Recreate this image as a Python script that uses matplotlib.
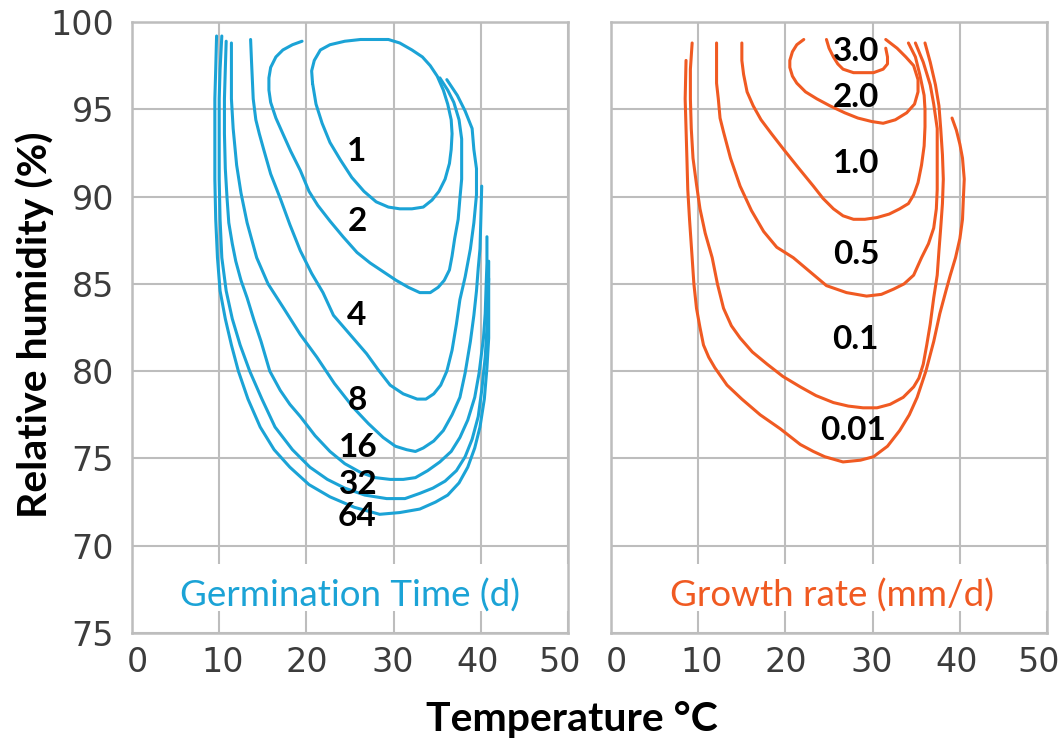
import matplotlib
matplotlib.use("Agg")
import matplotlib.pyplot as plt
from matplotlib.transforms import ScaledTranslation

# --- germination time contours (days), left panel: temperature (C) vs RH (%) ---
germ_1_t = [20.7, 20.6, 20.9, 21.6, 22.7, 24.4, 26.2, 27.9, 29.4, 30.7, 32.1, 33.3,
            34.2, 35.0, 35.7, 36.2, 36.6, 36.7, 36.6, 36.4, 35.9, 35.2, 34.4, 33.4,
            32.1, 30.7, 29.4, 28.0, 26.6, 25.2, 23.9, 22.7, 21.8, 21.1, 20.7]
germ_1_rh = [96.5, 97.2, 97.8, 98.4, 98.7, 98.9, 99.0, 99.0, 99.0, 98.8, 98.4, 98.0,
             97.5, 96.9, 96.1, 95.3, 94.4, 93.6, 92.7, 91.9, 91.0, 90.3, 89.8, 89.4,
             89.3, 89.3, 89.4, 89.7, 90.3, 91.1, 92.1, 93.1, 94.2, 95.3, 96.5]

germ_2_t = [19.5, 18.4, 17.3, 16.5, 15.9, 15.7, 15.7, 15.9, 16.5, 17.3, 18.2, 19.3,
            20.3, 21.3, 22.7, 24.2, 25.8, 27.3, 28.8, 30.3, 31.7, 33.0, 34.2, 35.1,
            35.8, 36.4, 36.7, 37.0, 37.4, 37.6, 37.8, 37.8, 37.8, 37.5, 36.9, 36.2, 35.3]
germ_2_rh = [98.9, 98.7, 98.4, 98.0, 97.4, 96.8, 96.1, 95.4, 94.5, 93.6, 92.6, 91.5,
             90.3, 89.5, 88.6, 87.7, 86.8, 86.2, 85.7, 85.2, 84.8, 84.5, 84.5, 84.8,
             85.2, 85.8, 86.6, 87.6, 88.7, 89.9, 91.0, 92.2, 93.3, 94.4, 95.4, 96.1, 96.8]

germ_4_t = [13.6, 13.7, 13.8, 13.9, 14.2, 14.6, 15.1, 15.9, 17.0, 18.1, 19.3, 20.6,
            21.9, 23.1, 25.0, 26.9, 28.2, 29.6, 31.1, 32.7, 33.7, 34.6, 35.4, 36.1,
            36.7, 37.2, 37.6, 38.2, 38.8, 39.2, 39.5, 39.5, 39.2, 39.0, 38.2, 37.3, 36.1]
germ_4_rh = [99.0, 97.8, 96.7, 95.6, 94.4, 93.6, 92.7, 91.3, 89.9, 88.4, 86.9, 85.6,
             84.5, 83.2, 82.1, 81.0, 80.1, 79.2, 78.7, 78.4, 78.4, 78.7, 79.2, 80.0,
             81.2, 82.7, 84.1, 85.4, 87.0, 88.5, 90.1, 91.6, 92.7, 93.9, 94.9, 95.8, 96.7]

germ_8_t = [11.4, 11.4, 11.4, 11.6, 12.0, 12.5, 13.2, 14.3, 15.6, 17.4, 19.3, 21.2,
            23.2, 25.4, 27.1, 28.8, 30.2, 31.5, 32.5, 33.4, 34.6, 35.7, 36.7, 37.6,
            38.2, 38.8, 39.2, 39.5, 39.7, 39.9, 40.0, 40.1]
germ_8_rh = [98.8, 97.3, 95.6, 93.9, 91.8, 90.2, 88.5, 86.5, 85.0, 83.6, 82.1, 80.8,
             79.3, 77.9, 77.0, 76.2, 75.7, 75.5, 75.4, 75.6, 76.0, 76.6, 77.5, 78.5,
             79.9, 81.7, 83.2, 84.6, 85.9, 87.0, 88.7, 90.6]

germ_16_t = [10.8, 10.7, 10.6, 10.6, 10.7, 10.9, 11.1, 11.5, 11.9, 12.5, 13.2, 14.0,
             14.8, 15.8, 17.0, 18.1, 19.3, 21.0, 22.7, 24.4, 26.2, 27.9, 29.6, 31.1,
             32.5, 33.9, 35.3, 36.6, 37.6, 38.5, 39.3, 39.8, 40.3, 40.5, 40.6, 40.7, 40.7]
germ_16_rh = [98.9, 97.3, 95.6, 93.6, 91.6, 89.9, 88.5, 87.3, 86.3, 85.2, 84.2, 82.9,
              81.7, 80.0, 78.9, 78.1, 77.4, 76.3, 75.4, 74.7, 74.2, 73.9, 73.8, 73.8,
              73.9, 74.3, 74.8, 75.4, 76.2, 77.2, 78.5, 79.9, 81.9, 83.3, 84.8, 86.2, 87.7]

germ_32_t = [10.3, 10.1, 10.0, 10.0, 10.0, 10.1, 10.3, 10.8, 11.5, 12.4, 13.5, 14.9,
             16.4, 18.4, 20.4, 22.4, 24.4, 26.7, 29.2, 31.3, 33.0, 34.5, 35.9, 37.2,
             38.2, 39.0, 39.7, 40.1, 40.5, 40.7, 40.8, 40.9, 40.9]
germ_32_rh = [99.2, 97.3, 95.6, 93.3, 91.0, 88.7, 86.5, 84.6, 83.0, 81.5, 80.0, 78.4,
              76.8, 75.5, 74.5, 73.8, 73.3, 72.9, 72.7, 72.7, 73.0, 73.3, 73.7, 74.3,
              75.1, 76.1, 77.4, 78.9, 80.8, 82.5, 84.2, 85.3, 86.3]

germ_64_t = [9.7, 9.6, 9.5, 9.5, 9.5, 9.6, 9.8, 10.1, 10.7, 11.4, 12.2, 13.3,
             14.7, 16.3, 18.1, 20.3, 22.7, 25.5, 28.4, 30.7, 33.0, 34.8, 36.2, 37.5,
             38.5, 39.3, 39.9, 40.4, 40.7, 40.9, 40.9, 40.9]
germ_64_rh = [99.2, 97.3, 95.6, 93.3, 91.0, 88.7, 86.5, 84.6, 83.0, 81.5, 80.0, 78.4,
              76.8, 75.5, 74.5, 73.5, 72.8, 72.2, 71.8, 71.9, 72.1, 72.5, 72.9, 73.6,
              74.5, 75.6, 76.8, 78.4, 80.2, 81.9, 83.6, 85.3]

germ_labels = ["1", "2", "4", "8", "16", "32", "64"]
germ_label_t = [25.8, 25.8, 25.8, 25.8, 25.9, 25.9, 25.8]
germ_label_rh = [92.6, 88.6, 83.2, 78.3, 75.6, 73.5, 71.7]

# --- growth rate contours (mm/d), right panel ---
grow_30_t = [24.7, 25.0, 25.5, 26.0, 26.6, 27.8, 28.9, 30.1, 31.2, 31.7, 31.7, 31.5]
grow_30_rh = [99.0, 98.5, 98.0, 97.6, 97.3, 97.1, 97.1, 97.1, 97.3, 97.6, 98.0, 98.5]

grow_20_t = [22.1, 21.3, 20.8, 20.5, 20.5, 20.8, 21.3, 22.3, 23.6, 25.1, 26.8, 28.3,
             29.9, 31.2, 32.6, 33.9, 34.8, 35.2, 35.2, 34.7, 33.8, 32.8, 31.5]
grow_20_rh = [99.0, 98.7, 98.3, 97.8, 97.4, 96.9, 96.5, 96.0, 95.6, 95.2, 94.8, 94.5,
              94.3, 94.2, 94.4, 94.8, 95.3, 96.0, 96.7, 97.5, 98.0, 98.5, 99.0]

grow_10_t = [15.0, 15.0, 15.2, 15.6, 16.3, 17.2, 18.4, 19.8, 21.4, 23.2, 24.3, 25.5,
             26.6, 27.8, 29.1, 30.5, 31.9, 33.1, 34.1, 34.7, 35.2, 35.6, 35.9, 36.0,
             36.0, 35.9, 35.4, 34.9, 34.1]
grow_10_rh = [98.8, 97.8, 97.0, 96.0, 95.2, 94.4, 93.6, 92.7, 91.7, 90.6, 89.9, 89.3,
              88.9, 88.7, 88.7, 88.8, 89.0, 89.3, 89.6, 90.1, 90.8, 91.8, 92.9, 94.0,
              95.0, 95.8, 97.0, 98.0, 98.8]

grow_05_t = [12.1, 12.1, 12.1, 12.3, 12.5, 12.9, 13.7, 14.8, 16.1, 17.5, 19.0, 20.9,
             22.8, 24.7, 27.0, 29.3, 31.0, 32.4, 33.6, 34.7, 35.6, 36.4, 37.0, 37.3,
             37.4, 37.4, 37.4, 37.0, 36.6, 35.8, 34.9]
grow_05_rh = [98.8, 97.6, 96.5, 95.6, 94.5, 93.7, 92.2, 90.6, 89.2, 88.0, 87.1, 86.5,
              85.7, 84.9, 84.5, 84.3, 84.4, 84.7, 85.0, 85.5, 86.5, 87.3, 88.2, 89.3,
              90.4, 92.2, 93.9, 95.3, 96.4, 97.7, 98.8]

grow_01_t = [9.3, 9.1, 9.1, 9.2, 9.4, 9.8, 10.2, 10.8, 11.6, 12.2, 12.9, 13.8,
             14.8, 16.2, 17.9, 19.7, 21.7, 23.5, 25.5, 27.2, 28.9, 30.5, 32.0, 33.5,
             34.7, 35.3, 35.8, 36.2, 36.6, 37.0, 37.4, 37.6, 37.8, 38.0, 38.1, 38.0,
             37.8, 37.6, 37.2, 36.6, 36.0]
grow_01_rh = [98.8, 97.3, 95.6, 93.9, 92.2, 90.7, 89.3, 87.9, 86.5, 85.0, 83.6, 82.6,
              81.9, 81.1, 80.4, 79.7, 79.1, 78.6, 78.2, 78.0, 77.9, 77.9, 78.1, 78.5,
              79.1, 79.6, 80.4, 81.5, 82.7, 84.2, 85.5, 86.9, 88.2, 89.6, 91.0, 92.4,
              93.9, 95.2, 96.4, 97.7, 98.8]

grow_001_t = [8.6, 8.5, 8.6, 8.7, 8.8, 9.0, 9.3, 9.5, 9.8, 10.2, 10.6, 11.2,
              11.9, 13.3, 15.0, 17.1, 19.4, 21.7, 23.2, 24.5, 26.6, 28.6, 30.1, 31.7,
              33.1, 34.2, 35.1, 36.1, 37.0, 37.7, 38.4, 38.9, 39.5, 40.0, 40.3, 40.4,
              40.5, 40.3, 40.0, 39.6, 39.1]
grow_001_rh = [97.8, 95.6, 93.9, 92.2, 90.4, 88.7, 86.5, 85.0, 83.6, 82.5, 81.5, 80.8,
               80.2, 79.2, 78.4, 77.5, 76.7, 75.8, 75.4, 75.1, 74.8, 74.9, 75.1, 75.7,
               76.6, 77.5, 78.5, 80.0, 81.7, 83.3, 84.6, 85.5, 86.5, 87.6, 88.7, 89.9,
               91.0, 92.2, 93.0, 93.8, 94.5]

grow_labels = ["3.0", "2.0", "1.0", "0.5", "0.1", "0.01"]
grow_label_t = [28.1, 28.1, 28.1, 28.1, 28.0, 27.8]
grow_label_rh = [98.3, 95.7, 91.9, 86.7, 81.8, 76.6]

x_ticks = [0, 10, 20, 30, 40, 50]
y_ticks = [65, 70, 75, 80, 85, 90, 95, 100]
y_tick_labels = ["75", "70", "75", "80", "85", "90", "95", "100"]

BLUE = "#1ba3d6"
ORANGE = "#f05a22"
GRID = "#bdbdbd"

germ_curves = [(germ_1_t, germ_1_rh), (germ_2_t, germ_2_rh), (germ_4_t, germ_4_rh),
               (germ_8_t, germ_8_rh), (germ_16_t, germ_16_rh), (germ_32_t, germ_32_rh),
               (germ_64_t, germ_64_rh)]
grow_curves = [(grow_30_t, grow_30_rh), (grow_20_t, grow_20_rh), (grow_10_t, grow_10_rh),
               (grow_05_t, grow_05_rh), (grow_01_t, grow_01_rh), (grow_001_t, grow_001_rh)]

fig = plt.figure(figsize=(10.61, 7.47), dpi=100)
ax1 = fig.add_axes([0.1244, 0.1526, 0.411, 0.8179])
ax2 = fig.add_axes([0.5759, 0.1526, 0.411, 0.8179])

tick_font = dict(family=["Liberation Sans Narrow", "DejaVu Sans"], size=24, color="#3c3c3c")
bold_font = dict(family=["Lato", "DejaVu Sans"], weight="bold")
# small horizontal nudges (pixels) so the outer tick labels sit like the original
x_label_shift = [5, 3, 0, -1, -3, -8]


def setup_panel(ax, show_y):
    ax.set_xlim(0, 50)
    ax.set_ylim(65, 100)
    ax.set_xticks(x_ticks)
    ax.set_yticks(y_ticks)
    ax.set_xticklabels([str(v) for v in x_ticks], **tick_font)
    if show_y:
        ax.set_yticklabels(y_tick_labels, **tick_font)
    else:
        ax.set_yticklabels([])
    ax.tick_params(length=0)
    ax.tick_params(axis="y", pad=13)
    ax.tick_params(axis="x", pad=9)
    for lab, dx in zip(ax.get_xticklabels(), x_label_shift):
        lab.set_transform(lab.get_transform() + ScaledTranslation(dx / 100, 0, fig.dpi_scale_trans))
    ax.set_axisbelow(True)
    ax.grid(True, color=GRID, linewidth=1.5)
    for s in ax.spines.values():
        s.set_color(GRID)
        s.set_linewidth(1.8)
    # white band behind the panel caption
    ax.axhspan(66.25, 68.98, color="white", zorder=1, linewidth=0)


setup_panel(ax1, True)
setup_panel(ax2, False)

for t, rh in germ_curves:
    ax1.plot(t, rh, color=BLUE, linewidth=2.2, solid_capstyle="round",
             solid_joinstyle="round", zorder=3)
for lab, t, rh in zip(germ_labels, germ_label_t, germ_label_rh):
    ax1.text(t, rh, lab, ha="center", va="center", fontsize=24, color="black",
             zorder=4, **bold_font)

for t, rh in grow_curves:
    ax2.plot(t, rh, color=ORANGE, linewidth=2.2, solid_capstyle="round",
             solid_joinstyle="round", zorder=3)
for lab, t, rh in zip(grow_labels, grow_label_t, grow_label_rh):
    ax2.text(t, rh, lab, ha="center", va="center", fontsize=24, color="black",
             zorder=4, **bold_font)

ax1.text(25, 67.15, "Germination Time (d)", ha="center", va="center", fontsize=26.5,
         color=BLUE, family=["Lato", "DejaVu Sans"], zorder=4)
ax2.text(25.3, 67.15, "Growth rate (mm/d)", ha="center", va="center", fontsize=26.5,
         color=ORANGE, family=["Lato", "DejaVu Sans"], zorder=4)

fig.text(0.033, 0.565, "Relative humidity (%)", rotation=90, ha="center", va="center",
         fontsize=29.5, color="black", **bold_font)
fig.text(0.539, 0.037, "Temperature \u00b0C", ha="center", va="center",
         fontsize=29.5, color="black", **bold_font)

fig.savefig("out.png", dpi=100)
